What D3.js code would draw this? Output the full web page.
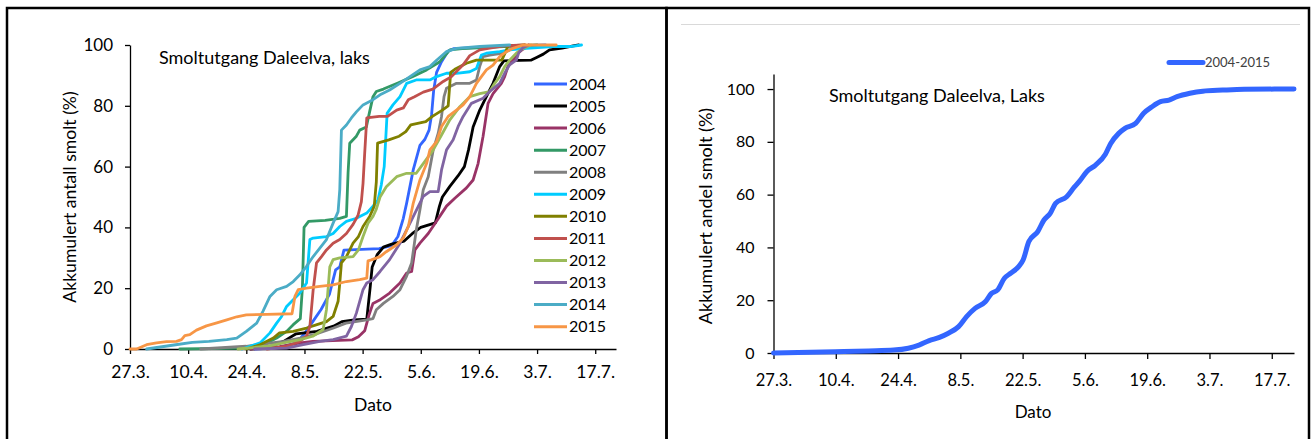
<!DOCTYPE html>
<meta charset="utf-8">
<style>
body { margin: 0; background: #fff; }
svg { display: block; font-family: Lato, "Open Sans", sans-serif; }
.frame { fill: none; stroke: #000; stroke-width: 2.5; }
.topline { stroke: #d9d9d9; stroke-width: 1; }
.axis path, .axis line { stroke: #000; stroke-width: 1.3; }
.axis text { fill: #000; font-family: Lato, sans-serif; }
.series { fill: none; stroke-width: 2.8; stroke-linejoin: round; stroke-linecap: round; }
.total { fill: none; stroke: #3366ff; stroke-width: 5; stroke-linecap: round; stroke-linejoin: round; }
.label { fill: #000; }
</style>
<svg width="1314" height="439"></svg>
<script src="https://cdnjs.cloudflare.com/ajax/libs/d3/7.8.5/d3.min.js"></script>
<script>

// days counted from 27.3.
var tickDays = [0, 14, 28, 42, 56, 70, 84, 98, 112];
var tickLabels = ["27.3.", "10.4.", "24.4.", "8.5.", "22.5.", "5.6.", "19.6.", "3.7.", "17.7."];
var lastDay = 117;
var pctTicks = [0, 20, 40, 60, 80, 100];

var years = ["2004", "2005", "2006", "2007", "2008", "2009", "2010", "2011", "2012", "2013", "2014", "2015"];

var s2004 = [[30,0],[36,0.5],[40,2],[42,5],[44,9],[46,13],[48,18],[49.5,26],[50.5,27],[51.5,32.5],[60,33],[63,34],[64.5,37],[65.8,43],[66.6,48],[68.2,59],[69.8,67],[71,69],[72,72],[72.6,77],[73.1,85],[73.8,91],[75,94.5],[76.6,98],[78,98.8],[85,99.3],[95,99.8],[100,100]];
var s2005 = [[29,0],[33,0.5],[37,2.5],[40,5],[45,5.8],[49,7.5],[51,9],[54,9.6],[57,9.8],[57.8,20],[58.3,27],[59.5,31],[61,33.5],[63,34.5],[66,35.5],[68,38],[70,40],[73.5,41.5],[74.5,47],[75.2,50],[77,53.5],[79,57],[80.5,60],[81.5,65.5],[82.6,73],[84.2,78.6],[85.8,83],[87.4,87.4],[89,92.9],[90,94.8],[96.5,95],[98,96],[99.5,97],[101,98.4],[104,99],[106.7,99.7],[108,100]];
var s2006 = [[29,0],[36,0.8],[41,2],[44,2.5],[53.5,3],[55,4],[56.5,6],[57.5,11],[58.5,15],[60,16],[62.5,18.4],[65,21.7],[66.6,25],[67.8,25.5],[68.6,32.6],[69.8,34.8],[71.8,38],[73.8,42],[76.2,47],[78.2,49.6],[81,53],[82.6,55.6],[83.8,61],[85,70],[86.2,80.8],[87.4,84],[89.4,87.4],[90.2,89.6],[91,93],[92.2,95],[93.4,97.3],[94.6,98.6],[96,100]];
var s2007 = [[12,0],[28,0.3],[33,2],[35.3,3.6],[37.7,5.8],[39.3,8],[41,10],[41.5,20],[41.9,40],[43,42],[47,42.3],[50.5,43],[52.1,43.6],[52.5,58],[52.9,67.7],[54.5,70],[55.3,72],[56.9,73],[57.6,77.5],[58.5,83],[59.3,84.7],[61,85.5],[64.5,87.5],[68,89.6],[71.4,91.8],[74.6,94.5],[77,98.4],[80,98.8],[90,99.5],[98,100]];
var s2008 = [[17,0],[28,0.9],[37,2.5],[41,3.6],[45,5],[49,6.9],[52,8.5],[57,9.6],[58.5,10],[59.3,12.9],[61,15],[63.3,17.3],[65,19.5],[66.6,24],[67.8,28.3],[68.9,39],[69.8,45.8],[70.6,52.4],[71.8,56.7],[73,65.5],[74.2,71],[75,76.5],[75.6,83],[76.2,85.8],[78.6,87.4],[81.8,87.4],[83.4,88.5],[84.2,93],[85,96.2],[86.6,96.7],[89.8,97.3],[92.2,98.9],[95,100]];
var s2009 = [[27,0],[31.3,2],[33.7,5.3],[35.3,8.5],[36.5,10.7],[37.7,14],[39.3,16.2],[40.9,18.4],[42.5,21.7],[43.3,36],[44.1,36.5],[47.3,37],[48.9,38],[50.5,40.3],[52.1,42],[54.5,43],[57,44.7],[58.5,47],[59.7,49],[60.5,54],[61.2,60],[61.9,77.5],[63.3,80.3],[65,83],[66.6,87.4],[68.9,88.5],[72.2,88.5],[73.8,89.6],[76.2,90.7],[78.6,90.7],[81.8,91.2],[83.4,92.3],[84.6,96.7],[85.8,97.3],[89,97.8],[91.4,98.4],[95.4,98.9],[101.8,99.5],[106,99.5],[108.7,100]];
var s2010 = [[28,0],[31.3,1.4],[34.5,3.6],[36,5.3],[39.3,5.8],[42.5,6.9],[45,8],[47.3,9],[48.9,10.7],[50.1,15.7],[50.5,21.7],[50.9,28.3],[52.1,30.4],[53.7,34.8],[55,37],[56.1,40.3],[57.7,43.6],[58.8,47],[59.3,55],[59.6,67.7],[62.3,68.8],[64.8,70],[66.4,71.5],[67.6,73.7],[71.2,74.8],[72.8,76.5],[75.2,78.6],[76.6,80],[77.2,91],[78.2,92],[81,94],[83.4,95],[89.5,95],[90.5,98],[91,99.7],[95,100]];
var s2011 = [[33,0],[37.7,0.9],[40.9,2.5],[42.5,4.2],[43.3,7.4],[44.1,19.5],[44.9,28.3],[46.1,30.4],[47.3,32.6],[48.9,34.8],[50.5,36],[52.1,38],[53.7,41],[54.9,44],[55.7,48.5],[56.1,54.5],[56.5,64.4],[57,76],[60,76.5],[62,76.5],[64.2,78.6],[65.8,79.3],[67,82],[68.5,83],[70.6,84.5],[72.9,85.5],[75.4,88],[77.4,89.6],[80.2,93.5],[81.8,96.5],[84.2,98.4],[86.6,99],[90,99.7],[95,100]];
var s2012 = [[26,0],[33,0.9],[37,2],[41,3.1],[44,4.2],[46.5,6.4],[47.3,13],[48.1,27],[48.9,29.4],[50.5,30],[53.7,30.4],[55,32.6],[56.1,37],[57.3,41.4],[58.5,43.6],[59.3,46],[60.2,50],[61.7,53.4],[64.2,56.7],[66.6,57.8],[68.9,57.8],[70.6,61],[73,65.5],[75,70.4],[77,75.4],[79.4,79.7],[81.8,83],[84.2,84],[86.6,84.7],[87.8,87.4],[89,89.6],[90.2,92.9],[91.4,95],[93,97.3],[94.6,98.9],[96.5,100]];
var s2013 = [[30,0],[37.7,0.3],[41.7,1.4],[45.7,2.5],[48.9,3.1],[52.1,4.2],[53.3,7.4],[54.5,11.8],[56.1,19.5],[57,21.7],[58.5,22.8],[60.2,25.5],[62.5,29.4],[65,34.8],[66.6,39.2],[68.6,44.7],[70.6,50.2],[72.2,51.8],[74.2,51.8],[75,58.9],[76.2,65.5],[77.8,68.8],[79,73.2],[80.2,76.5],[82.2,80.8],[85,82.5],[86.6,84.7],[89,87.4],[90.2,90.7],[91.4,93.5],[93,95],[93.6,97.5],[94.5,99],[96,100]];
var s2014 = [[4,0],[11,1.4],[15,2.2],[19,2.5],[23.3,3.1],[25.7,3.6],[28,5.8],[30.5,8.5],[32,12.4],[33.7,17.3],[35.3,19.5],[37.7,20.6],[39.3,22.2],[40.9,24.4],[42.5,27.2],[44.1,30.4],[45.7,33.2],[47.3,36],[48.9,41.4],[50.1,45.2],[50.5,52.4],[50.9,72],[52.1,73.7],[53.3,76],[54.5,78],[56.1,80.3],[58.5,82],[60.2,83.6],[62.5,85.2],[65,87.4],[67.4,89.6],[69.8,91.8],[72.2,92.9],[73.8,95],[76.2,97.8],[78.6,98.9],[84.2,99.5],[91.4,100]];
var s2015 = [[0,0],[1.6,0],[4,1.4],[6.4,2],[8.8,2.4],[11.2,2.5],[12.4,3.1],[13.2,4.4],[14.4,4.7],[16,6.2],[18.4,7.6],[20.9,8.6],[23.3,9.6],[25.7,10.6],[28,11.2],[32.9,11.4],[39,11.6],[39.7,17.3],[40.5,19.5],[42.5,20],[45.7,20.6],[48.9,21.1],[52.1,22.2],[55.3,22.8],[57,23.3],[57.3,29],[58.1,29.3],[60.2,30.4],[61.7,32],[64.2,34.3],[65.8,36.5],[67,40.3],[68.2,48],[69.8,55.6],[71.4,61],[72.2,65.5],[73.8,68.2],[75,73.2],[76.6,76.5],[78.6,78.6],[80.2,80.3],[81.8,83],[83.4,87.4],[84.6,89.6],[85.8,91.8],[87.4,93.4],[89,96.2],[90.6,97.8],[92.2,98.9],[94.6,100],[102.6,100]];

var allYears = [[0,0],[13.9,0.5],[21.4,0.8],[27,1.1],[30.3,1.8],[32.7,3],[35,4.7],[37.3,5.9],[39.2,7.4],[41.6,10],[43.4,13.8],[45.3,16.9],[47.6,19.4],[49,22.6],[50.4,23.9],[51.9,28.3],[53.3,30.2],[55.1,32.7],[56.1,35.2],[57.4,42.2],[59.4,46],[60.8,50.4],[62.2,52.9],[63.4,56.7],[65.9,59.2],[67.6,62.8],[68.7,64.9],[70.5,68.9],[72.4,71.2],[74.6,75.3],[75.8,79.4],[77.6,83.2],[79,85.1],[81.4,87],[83.2,90.8],[85.1,93.3],[87,95.2],[88.9,95.8],[90.7,97.1],[93.6,98.4],[96.5,99.2],[101,99.6],[105.8,99.9],[117,100]];

var seriesByYear = [s2004, s2005, s2006, s2007, s2008, s2009, s2010, s2011, s2012, s2013, s2014, s2015];
var colors = ["#3366ff", "#000000", "#993366", "#339966", "#808080", "#00ccff", "#808000", "#c0504d", "#9bbb59", "#8064a2", "#4bacc6", "#f79646"];

var svg = d3.select("svg");

// panel frames
svg.append("rect").attr("class", "frame").attr("x", 7).attr("y", 8).attr("width", 659.5).attr("height", 440);
svg.append("rect").attr("class", "frame").attr("x", 666.5).attr("y", 8).attr("width", 642.5).attr("height", 440);
svg.append("line").attr("class", "topline").attr("x1", 681).attr("x2", 1300).attr("y1", 24.5).attr("y2", 24.5);

// ---- left chart: each year
var x1 = d3.scaleLinear().domain([0, lastDay]).range([130, 616]),
    y1 = d3.scaleLinear().domain([0, 100]).range([349, 45]);

svg.append("g")
    .attr("class", "axis")
    .attr("transform", "translate(0,349)")
    .call(d3.axisBottom(x1).tickValues(tickDays).tickFormat(function(d, i) { return tickLabels[i]; })
      .tickSize(5).tickSizeOuter(0).tickPadding(12))
    .selectAll("text").style("font-size", "17.5px");

svg.append("g")
    .attr("class", "axis")
    .attr("transform", "translate(130,0)")
    .call(d3.axisLeft(y1).tickValues(pctTicks).tickSize(5).tickSizeOuter(0).tickPadding(12))
    .selectAll("text").style("font-size", "17px");

var line1 = d3.line()
    .x(function(d) { return x1(d[0]); })
    .y(function(d) { return y1(d[1]); });

svg.append("g").selectAll("path")
  .data(seriesByYear)
  .enter().append("path")
    .attr("class", "series")
    .attr("stroke", function(d, i) { return colors[i]; })
    .attr("d", line1);

svg.append("text").attr("class", "label")
    .attr("x", 159).attr("y", 63.5)
    .style("font-size", "18px")
    .text("Smoltutgang Daleelva, laks");

svg.append("text").attr("class", "label")
    .attr("transform", "translate(76,197) rotate(-90)")
    .attr("text-anchor", "middle")
    .style("font-size", "17.6px")
    .text("Akkumulert antall smolt (%)");

svg.append("text").attr("class", "label")
    .attr("x", 373).attr("y", 411)
    .attr("text-anchor", "middle")
    .style("font-size", "17.5px")
    .text("Dato");

var legend = svg.append("g").selectAll("g")
  .data(years)
  .enter().append("g")
    .attr("transform", function(d, i) { return "translate(534," + (84 + i * 22.06) + ")"; });

legend.append("line")
    .attr("x2", 33)
    .attr("stroke", function(d, i) { return colors[i]; })
    .attr("stroke-width", 3);

legend.append("text")
    .attr("x", 35).attr("dy", "0.36em")
    .style("font-size", "16px")
    .text(function(d) { return d; });

// ---- right chart: all years together
var x2 = d3.scaleLinear().domain([0, lastDay]).range([773.5, 1294]),
    y2 = d3.scaleLinear().domain([0, 105.7]).range([353, 74]);

svg.append("g")
    .attr("class", "axis")
    .attr("transform", "translate(0,353)")
    .call(d3.axisBottom(x2).tickValues(tickDays).tickFormat(function(d, i) { return tickLabels[i]; })
      .tickSize(6).tickSizeOuter(0).tickPadding(15))
    .selectAll("text").style("font-size", "16.5px");

svg.append("g")
    .attr("class", "axis")
    .attr("transform", "translate(773.5,0)")
    .call(d3.axisLeft(y2).tickValues(pctTicks).tickSize(6).tickSizeOuter(0).tickPadding(13))
    .selectAll("text").style("font-size", "16px");

svg.append("path")
    .datum(allYears)
    .attr("class", "total")
    .attr("d", d3.line()
      .curve(d3.curveMonotoneX)
      .x(function(d) { return x2(d[0]); })
      .y(function(d) { return y2(d[1]); }));

svg.append("text").attr("class", "label")
    .attr("x", 829).attr("y", 101.5)
    .style("font-size", "18px")
    .text("Smoltutgang Daleelva, Laks");

svg.append("text").attr("class", "label")
    .attr("transform", "translate(712,216) rotate(-90)")
    .attr("text-anchor", "middle")
    .style("font-size", "18px")
    .text("Akkumulert andel smolt (%)");

svg.append("text").attr("class", "label")
    .attr("x", 1033).attr("y", 418)
    .attr("text-anchor", "middle")
    .style("font-size", "17px")
    .text("Dato");

svg.append("line")
    .attr("x1", 1169).attr("x2", 1203).attr("y1", 62.5).attr("y2", 62.5)
    .attr("stroke", "#3366ff").attr("stroke-width", 5).attr("stroke-linecap", "round");

svg.append("text")
    .attr("x", 1205).attr("y", 62.5).attr("dy", "0.36em")
    .style("font-size", "13px").style("fill", "#404040")
    .text("2004-2015");

</script>
